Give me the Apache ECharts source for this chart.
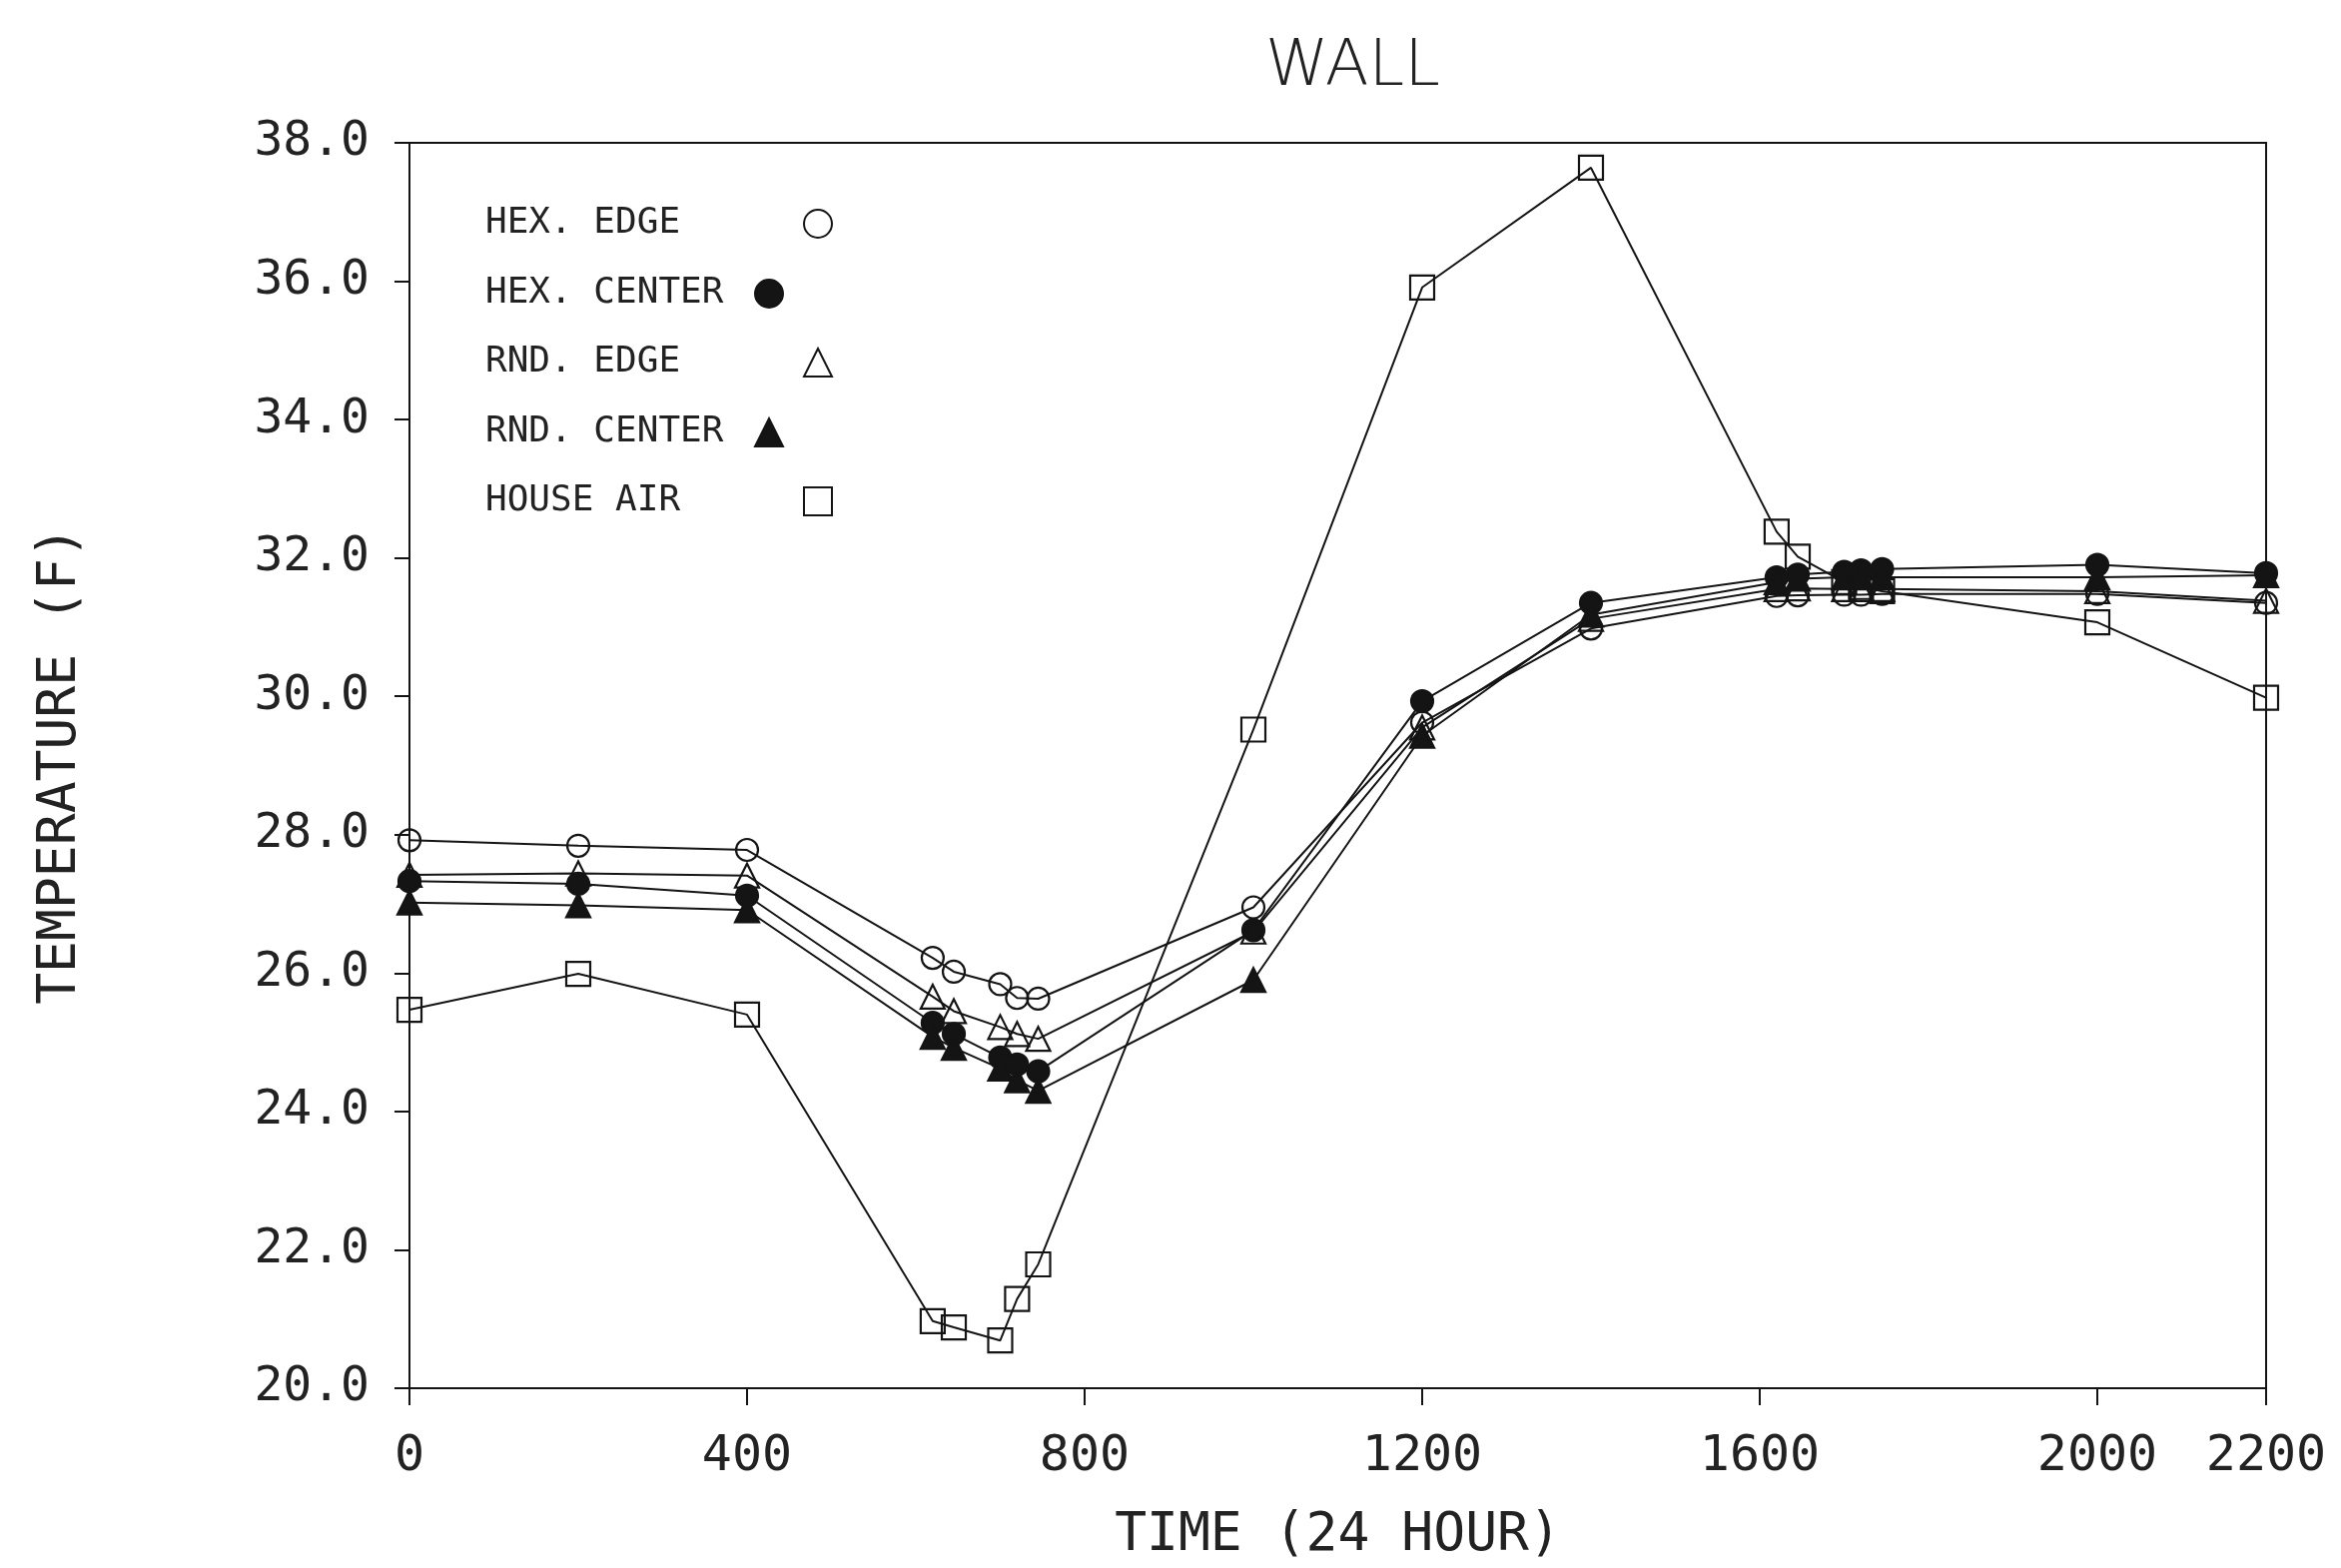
<!DOCTYPE html>
<html><head><meta charset="utf-8">
<script src="https://cdn.jsdelivr.net/npm/echarts@6/dist/echarts.min.js"></script>
<style>html,body{margin:0;padding:0;background:#fff}#c{width:2344px;height:1570px}</style>
</head><body><div id="c"></div>
<script>
// Time (24 hour clock) of each reading
const times      = [0, 200, 400, 620, 645, 700, 720, 745, 1000, 1200, 1400, 1620, 1645, 1700, 1720, 1745, 2000, 2200];
// Temperatures (F)
const hexEdge    = [27.92, 27.84, 27.78, 26.22, 26.02, 25.84, 25.64, 25.63, 26.95, 29.62, 30.98, 31.45, 31.46, 31.47, 31.47, 31.48, 31.48, 31.35];
const hexCenter  = [27.33, 27.29, 27.12, 25.28, 25.12, 24.78, 24.68, 24.58, 26.62, 29.93, 31.35, 31.72, 31.76, 31.80, 31.82, 31.84, 31.90, 31.78];
const rndEdge    = [27.42, 27.44, 27.41, 25.66, 25.45, 25.22, 25.12, 25.05, 26.60, 29.55, 31.12, 31.55, 31.56, 31.55, 31.55, 31.55, 31.52, 31.38];
const rndCenter  = [27.02, 26.98, 26.91, 25.08, 24.92, 24.62, 24.45, 24.30, 25.90, 29.43, 31.18, 31.65, 31.70, 31.72, 31.72, 31.72, 31.72, 31.75];
const houseAir   = [25.47, 25.99, 25.40, 20.97, 20.88, 20.69, 21.29, 21.79, 29.52, 35.91, 37.64, 32.38, 32.02, 31.65, 31.58, 31.52, 31.07, 29.98];

const seriesNames = ['HEX. EDGE', 'HEX. CENTER', 'RND. EDGE', 'RND. CENTER', 'HOUSE AIR'];
const xTicks = [0, 400, 800, 1200, 1600, 2000, 2200];
const yTicks = [20, 22, 24, 26, 28, 30, 32, 34, 36, 38];

const INK = '#141414';
const MONO = 'DejaVu Sans Mono';

function mk(name, vals, symbol, filled, size) {
  return {
    name: name, type: 'line',
    data: times.map((t, i) => [t, vals[i]]),
    symbol: symbol, symbolSize: size, showSymbol: true,
    lineStyle: { color: INK, width: 2 },
    itemStyle: { color: filled ? INK : 'rgba(0,0,0,0)', borderColor: INK, borderWidth: 2.2 },
    emphasis: { disabled: true },
    silent: true
  };
}

function legendBlock(names, icons, top, boxW) {
  return {
    orient: 'vertical', left: 486, top: top, padding: 0,
    align: 'right', itemWidth: 28, itemHeight: 28, itemGap: 103,
    selectedMode: false,
    data: names.map((n, i) => ({ name: n, icon: icons[i] })),
    formatter: function (n) { return '{t|' + n + '}'; },
    textStyle: {
      fontFamily: MONO, fontSize: 36, color: '#222',
      rich: { t: { fontFamily: MONO, fontSize: 36, color: '#222', width: boxW, align: 'left' } }
    }
  };
}

const chart = echarts.init(document.getElementById('c'), null, { renderer: 'canvas' });
chart.setOption({
  animation: false,
  backgroundColor: '#fff',
  title: {
    text: 'WALL', left: 1262, top: 31,
    textStyle: { fontFamily: 'DejaVu Sans', fontSize: 64, fontWeight: 200, color: '#222' }
  },
  grid: { left: 410, right: 75, top: 143, bottom: 177, show: true, borderColor: INK, borderWidth: 2, containLabel: false },
  legend: [
    legendBlock([seriesNames[0], seriesNames[2], seriesNames[4]], ['circle', 'triangle', 'rect'], 206, 314),
    legendBlock([seriesNames[1], seriesNames[3]], ['circle', 'triangle'], 276, 265)
  ],
  xAxis: {
    type: 'value', min: 0, max: 2200,
    name: 'TIME (24 HOUR)', nameLocation: 'middle', nameGap: 122,
    nameTextStyle: { fontFamily: MONO, fontSize: 53, color: '#222' },
    axisLine: { show: true, lineStyle: { color: INK, width: 2 } },
    axisTick: { show: true, inside: false, length: 17, lineStyle: { color: INK, width: 2 }, customValues: xTicks },
    axisLabel: { customValues: xTicks, margin: 44, fontFamily: MONO, fontSize: 50, color: '#222',
      showMinLabel: true, showMaxLabel: true, formatter: function (v) { return String(v); } },
    splitLine: { show: false }
  },
  yAxis: {
    type: 'value', min: 20, max: 38,
    name: 'TEMPERATURE (F)', nameLocation: 'middle', nameGap: 322, nameRotate: 90,
    nameTextStyle: { fontFamily: MONO, fontSize: 53, color: '#222' },
    axisLine: { show: true, lineStyle: { color: INK, width: 2 } },
    axisTick: { show: true, inside: false, length: 15, lineStyle: { color: INK, width: 2 }, customValues: yTicks },
    axisLabel: { customValues: yTicks, margin: 40, fontFamily: MONO, fontSize: 48, color: '#222',
      formatter: function (v) { return Number(v).toFixed(1); } },
    splitLine: { show: false }
  },
  series: [
    mk(seriesNames[0], hexEdge, 'circle', false, 22),
    mk(seriesNames[1], hexCenter, 'circle', true, 22),
    mk(seriesNames[2], rndEdge, 'triangle', false, 24),
    mk(seriesNames[3], rndCenter, 'triangle', true, 24),
    mk(seriesNames[4], houseAir, 'rect', false, 24)
  ]
});
</script></body></html>
